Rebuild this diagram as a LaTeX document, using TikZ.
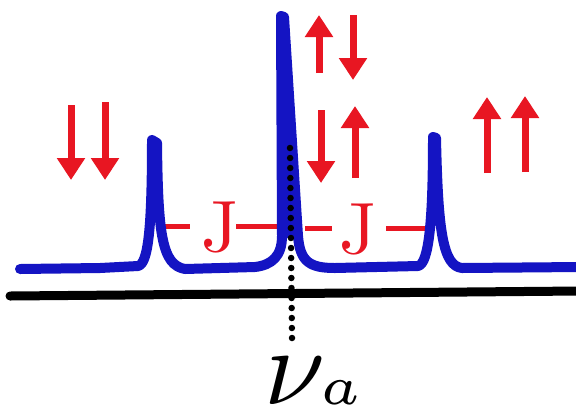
\documentclass[tikz,border=0pt]{standalone}
\usetikzlibrary{arrows.meta}
\definecolor{specblue}{RGB}{20,20,195}
\definecolor{spinred}{RGB}{232,22,34}
\begin{document}
\begin{tikzpicture}[x=1bp,y=-1bp,
  spectrum/.style={draw=specblue,line width=10bp,line cap=round,line join=round},
  axisline/.style={draw=black,line width=9bp,line cap=round},
  spin/.style={draw=spinred,line width=7bp,-{Triangle[width=27bp,length=22bp]}},
  jlabel/.style={text=spinred,inner sep=0pt,scale=7.3},
  jdash/.style={draw=spinred,line width=5bp},
  guide/.style={draw=black,line width=6.5bp,line cap=round,dash pattern=on 0bp off 10bp}]
\useasboundingbox[fill=white] (0,0) rectangle (576,415);

% axis
\coordinate (axL) at (10,296);
\coordinate (axR) at (580,291);
\draw[axisline] (axL) -- (axR);

% peak reference points
\coordinate (lp) at (158,229);
\coordinate (cpl) at (277,227);
\coordinate (cpr) at (305,225);
\coordinate (rp) at (428,223);

% J labels
\node[jlabel,anchor=base] (J1) at (220,251) {J};
\node[jlabel,anchor=base] (J2) at (358,253) {J};
\draw[jdash,shorten <=10bp] (J1.west) -- (lp |- J1.west);
\draw[jdash,shorten <=-4bp] (J1.east) -- (cpl |- J1.east);
\draw[jdash,shorten <=6bp] (J2.west) -- (cpr |- J2.west);
\draw[jdash,shorten <=8bp] (J2.east) -- (rp |- J2.east);

% spectrum
\fill[specblue] (282,16) -- (298,238) -- (282,238) -- cycle;
\draw[spectrum] (20,269) -- (100,268) -- (138,266)
  .. controls (148,264) and (152,230) .. (152,140)
  -- (157,143)
  .. controls (158,235) and (162,265) .. (185,269)
  -- (255,267)
  .. controls (272,265) and (282,256) .. (282,236)
  -- (281,16)
  -- (284,17)
  -- (298,236)
  .. controls (300,262) and (310,268) .. (335,268)
  -- (418,266)
  .. controls (429,264) and (433,220) .. (433,137)
  -- (436,138)
  .. controls (438,232) and (443,266) .. (462,268)
  -- (580,267);

% dotted guide
\coordinate (vtop) at (290,148);
\coordinate (vbot) at (292,338);
\draw[guide] (vtop) -- (vbot);

% frequency label
\node[anchor=base west,inner sep=0pt,scale=11] (nu) at (262,404) {$\nu\mkern-1mu\scriptscriptstyle a$};

% spin arrows
\draw[spin] (71,105) -- (71,180);
\draw[spin] (105,102) -- (105,180);
\draw[spin] (319,73) -- (319,15);
\draw[spin] (353,15) -- (353,80);
\draw[spin] (321,110) -- (321,183);
\draw[spin] (355,178) -- (355,106);
\draw[spin] (487,173) -- (487,97);
\draw[spin] (525,172) -- (525,96);
\end{tikzpicture}
\end{document}
